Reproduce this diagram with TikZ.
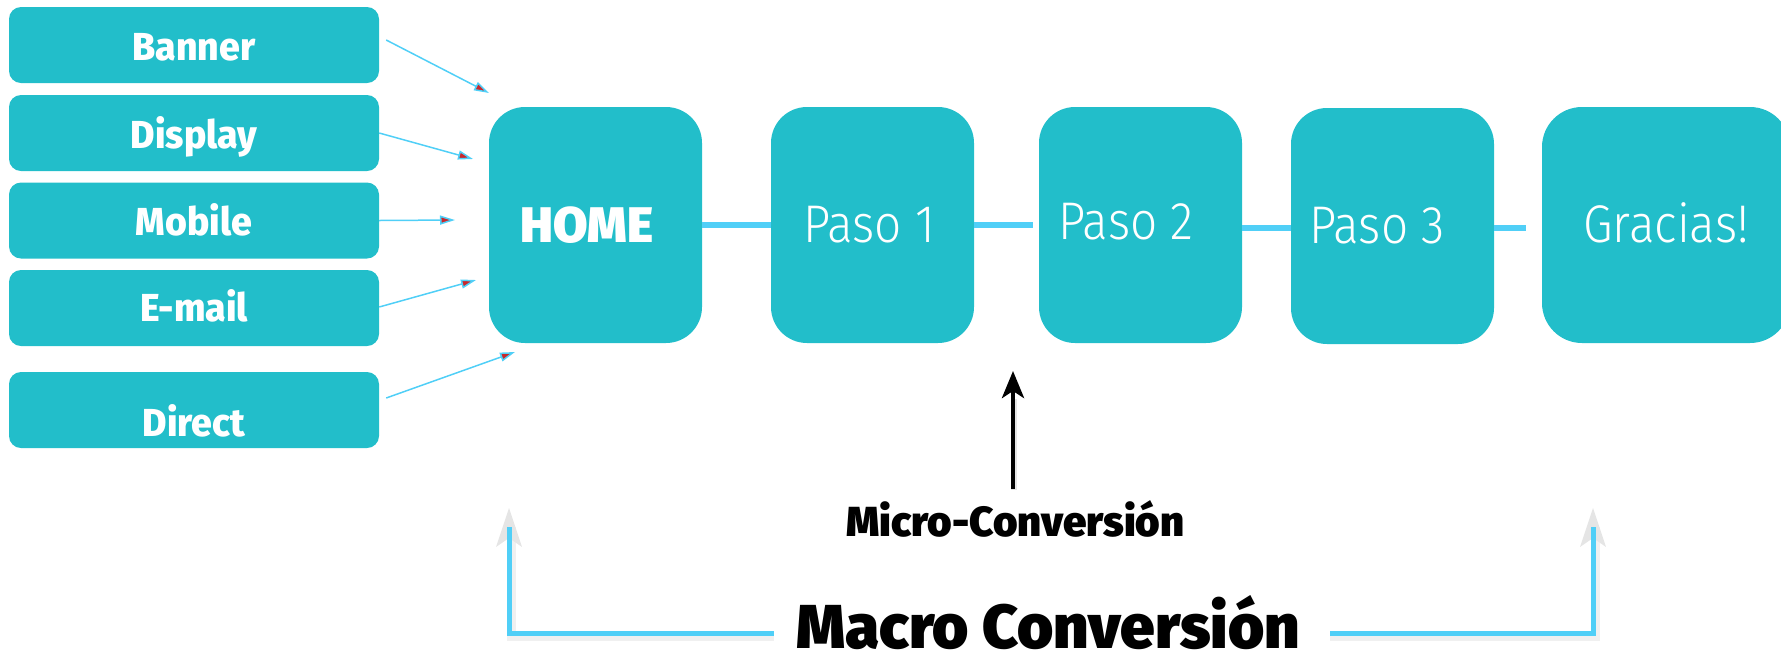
\documentclass[tikz,border=0pt]{standalone}
\usepackage{fontspec}
\usetikzlibrary{arrows.meta,calc}
\setmainfont{Fira Sans}
\IfFontExistsTF{Fira Sans Black}{\newfontfamily\heavyf{Fira Sans Black}}{\newfontfamily\heavyf{Fira Sans}[UprightFont=*-Bold]}
\IfFontExistsTF{Fira Sans ExtraBold}{\newfontfamily\xbf{Fira Sans ExtraBold}[FakeStretch=0.96]}{\newfontfamily\xbf{Fira Sans}[UprightFont=*-Bold]}
\IfFontExistsTF{Fira Sans Light}{\newfontfamily\lfam{Fira Sans Light}[FakeStretch=0.9]}{\newfontfamily\lfam{Fira Sans}[FakeStretch=0.9]}
\definecolor{teal1}{RGB}{34,190,202}
\definecolor{lblue}{RGB}{80,207,247}
\definecolor{tipred}{RGB}{200,40,45}
\begin{document}
\begin{tikzpicture}[x=1pt,y=-1pt,
  box/.style={fill=teal1, draw=none, inner sep=0pt, text=white},
  src/.style={box, rounded corners=12pt, minimum width=370pt, minimum height=76pt,
    font=\xbf\fontsize{39}{39}\selectfont, text height=27pt, text depth=0pt},
  stepbox/.style={box, rounded corners=36pt, minimum width=203pt, minimum height=236pt,
    font=\lfam\fontsize{53}{53}\selectfont, text height=34pt, text depth=0pt},
  link/.style={draw=lblue, line width=6pt},
  feed/.style={draw=lblue, line width=1.5pt, -{Triangle[length=15pt,width=9pt,fill=tipred]}},
  bracket/.style={draw=lblue, line width=5pt, line join=miter},
  bshadow/.style={draw=black, opacity=0.06, line width=9pt},
  ghosthead/.style={fill=black!10, draw=none},
]
\useasboundingbox (0,0) rectangle (1781,657);

% source boxes
\node[src] (banner)  at (194,45)    {\raisebox{-2pt}{Banner}};
\node[src] (display) at (194,133)   {\raisebox{-2pt}{Display}};
\node[src] (mobile)  at (194,220.5) {\raisebox{-1pt}{Mobile}};
\node[src] (email)   at (194,308)   {E-mail};
\node[src] (direct)  at (194,410)   {\raisebox{-13pt}{Direct}};

% funnel steps
\node[stepbox, minimum width=213pt, font=\heavyf\fontsize{50}{50}\selectfont, text height=34pt] (home) at (595.5,225) {HOME\kern17pt};
\node[stepbox] (paso1) at (872.5,225) {Paso 1\kern7pt};
\node[stepbox] (paso2) at (1140.5,225) {\raisebox{2.5pt}{Paso 2}\kern29pt};
\node[stepbox] (paso3) at (1392.5,226) {Paso 3\kern31pt};
\node[stepbox, minimum width=248pt, rounded corners=40pt] (gracias) at (1666,225) {Gracias!};

% links between steps
\draw[link] (home.east) -- (paso1.west);
\draw[link, shorten >=6pt] (paso1.east) -- (paso2.west);
\draw[link] ([yshift=-3pt]paso2.east) -- ([yshift=-3pt]paso2.east -| paso3.west);
\draw[link, shorten >=16pt] ([yshift=-2pt]paso3.east) -- ([yshift=-2pt]paso3.east -| gracias.west);

% traffic arrows
\coordinate (hBanner)  at (489,93);
\coordinate (hDisplay) at (473,159);
\coordinate (hMobile)  at (455,220);
\coordinate (hEmail)   at (476,280);
\coordinate (hDirect)  at (515,352);
\draw[feed] ($(banner.east)+(7,-5)$) -- (hBanner);
\draw[feed] (display.east) -- (hDisplay);
\draw[feed] (mobile.east) -- (hMobile);
\draw[feed] ($(email.east)+(0,-1)$) -- (hEmail);
\draw[feed] ($(direct.east)+(7,-12)$) -- (hDirect);

% micro conversion
\node[font=\heavyf\fontsize{42}{42}\selectfont, inner sep=0pt, text height=29pt, text depth=0pt] (micro) at (1015.5,521.5) {Micro-Conversión};
\coordinate (microTip) at (1013,371);
\draw[black!20, line width=6pt, opacity=0.5] ($(micro.north)+(-1.5,-17)$) -- ($(microTip)+(1,28)$);
\draw[line width=4.5pt, -{Stealth[length=27pt,width=22pt,inset=7pt]}] ($(micro.north)+(-2.5,-18)$) -- (microTip);

% macro conversion
\node[font=\heavyf\fontsize{62}{62}\selectfont, inner sep=0pt, text height=42pt, text depth=0pt] (macro) at (1048,627) {Macro Conversión};
\coordinate (lCorner) at (509,633);
\coordinate (lTop)    at (509,527);
\coordinate (rCorner) at (1593,633);
\coordinate (rTop)    at (1593,527);
\draw[bshadow] ($(macro.west |- lCorner)+(-22,3)$) -- ($(lCorner)+(2,3)$) -- ($(lTop)+(2,0)$);
\draw[bshadow] ($(macro.east |- rCorner)+(30,3)$) -- ($(rCorner)+(2,3)$) -- ($(rTop)+(2,0)$);
\fill[ghosthead] (509,508) -- (522,547) -- (509,538) -- (496,547) -- cycle;
\fill[ghosthead] (1593,508) -- (1606,547) -- (1593,538) -- (1580,547) -- cycle;
\draw[bracket] ($(macro.west |- lCorner)+(-22,0)$) -- (lCorner) -- (lTop);
\draw[bracket] ($(macro.east |- rCorner)+(30,0)$) -- (rCorner) -- (rTop);
\end{tikzpicture}
\end{document}
